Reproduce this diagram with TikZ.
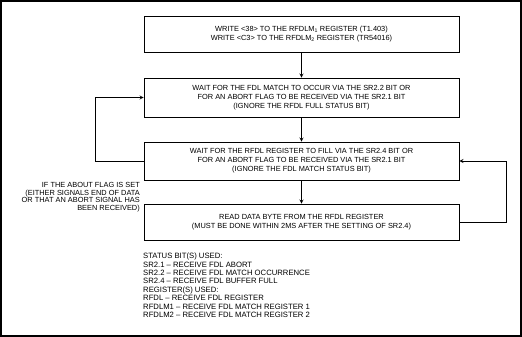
\documentclass[tikz,border=0pt]{standalone}
\usepackage{fontspec}
\setmainfont{Liberation Sans}
\usetikzlibrary{calc}
\tikzstyle{stepbox} = [rectangle, minimum width=315pt, text centered, align=center, draw=black, line width=0.8pt, font=\fontsize{7.4}{9}\selectfont, inner sep=2pt]
\tikzstyle{note} = [font=\fontsize{7.4}{7.8}\selectfont, inner sep=0pt]
\tikzstyle{arrow} = [line width=0.8pt,->,>=stealth]

\begin{document}
\begin{tikzpicture}[x=1pt, y=-1pt]
    \useasboundingbox (0,0) rectangle (522,337);
    \draw[line width=1.6pt] (0.8,0.8) rectangle (521.2,336.2);
    \node (write)[stepbox, minimum height=36pt] at (301.5,34) {WRITE <38> TO THE RFDLM\textsubscript{1} REGISTER (T1.403)\\WRITE <C3> TO THE RFDLM\textsubscript{2} REGISTER (TR54016)};
    \node (match)[stepbox, minimum height=39pt] at (301.5,97.5) {WAIT FOR THE FDL MATCH TO OCCUR VIA THE SR2.2 BIT OR\\FOR AN ABORT FLAG TO BE RECEIVED VIA THE SR2.1 BIT\\(IGNORE THE RFDL FULL STATUS BIT)};
    \node (fill)[stepbox, minimum height=38pt] at (301.5,161) {WAIT FOR THE RFDL REGISTER TO FILL VIA THE SR2.4 BIT OR\\FOR AN ABORT FLAG TO BE RECEIVED VIA THE SR2.1 BIT\\(IGNORE THE FDL MATCH STATUS BIT)};
    \node (read)[stepbox, minimum height=36pt] at (301.5,222) {READ DATA BYTE FROM THE RFDL REGISTER\\(MUST BE DONE WITHIN 2MS AFTER THE SETTING OF SR2.4)};
    \node (abort)[note, align=right, anchor=north east] at (140,182) {IF THE ABOUT FLAG IS SET\\(EITHER SIGNALS END OF DATA\\OR THAT AN ABORT SIGNAL HAS\\BEEN RECEIVED)};
    \node (legend)[note, font=\fontsize{7.7}{8.4}\selectfont, align=left, anchor=north west] at (143,253) {STATUS BIT(S) USED:\\SR2.1 -- RECEIVE FDL ABORT\\SR2.2 -- RECEIVE FDL MATCH OCCURRENCE\\SR2.4 -- RECEIVE FDL BUFFER FULL\\REGISTER(S) USED:\\RFDL -- RECEIVE FDL REGISTER\\RFDLM1 -- RECEIVE FDL MATCH REGISTER 1\\RFDLM2 -- RECEIVE FDL MATCH REGISTER 2};
    \draw[arrow] (write)--(match);
    \draw[arrow] (match)--(fill);
    \draw[arrow] (fill)--(read);
    \draw[arrow] (fill.west) -- ($(fill.west)+(-48,0)$) |- (match.west);
    \draw[arrow] (read.east) -- ($(read.east)+(47,0)$) |- (fill.east);

  \end{tikzpicture}
\end{document}
